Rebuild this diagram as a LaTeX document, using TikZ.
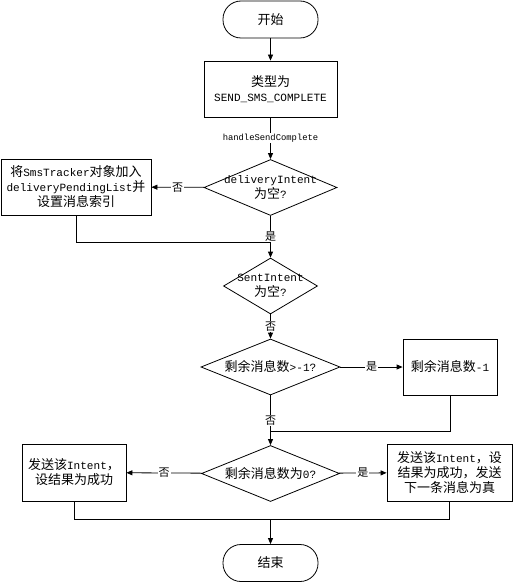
\documentclass[tikz,border=0pt]{standalone}
\usepackage{fontspec}
\setmainfont{Noto Sans CJK SC}
\newfontfamily\mono[Scale=0.85]{Liberation Mono}
\usetikzlibrary{shapes.geometric,arrows.meta}

\begin{document}
\begin{tikzpicture}[x=1pt,y=-1pt]
      \tikzset{terminal/.style={draw, rounded corners=18pt, minimum width=95pt, minimum height=37pt, font=\fontsize{13}{15}\selectfont},
               process/.style={draw, minimum width=#1, minimum height=56pt, align=center, inner sep=1pt, font=\fontsize{13}{15}\selectfont},
               process/.default=133pt,
               decision/.style={draw, diamond, minimum width=#1, minimum height=56pt, inner sep=0pt},
               decision/.default=138pt,
               inside/.style={align=center, inner sep=0pt, font=\fontsize{13}{15}\selectfont},
               flow/.style={-{Triangle[length=6pt,width=5pt]}},
               choice/.style={fill=white, inner sep=1pt, font=\fontsize{11}{12}\selectfont}}
      \useasboundingbox (0,0) rectangle (513,583);
      \tikzset{every path/.style={line width=0.8pt}}

      \node[terminal] (start) at (270.5,19.5) {开始};
      \node[process] (type) at (270.5,89) {类型为\\{\mono SEND\_SMS\_COMPLETE}};
      \node[decision=133pt] (d1) at (270.5,187.5) {};
      \node[inside] (d1text) at (d1) {{\mono deliveryIntent}\\为空{\mono ?}};
      \node[process=150pt] (pend) at (76,187) {将{\mono SmsTracker}对象加入\\{\mono deliveryPendingList}并\\设置消息索引};
      \node[decision=94pt] (d2) at (270.5,286) {};
      \node[inside] (d2text) at (d2) {{\mono SentIntent}\\为空{\mono ?}};
      \node[decision=139pt] (d3) at (270.5,367) {};
      \node[inside] (d3text) at (d3) {剩余消息数{\mono >-1?}};
      \node[process=94pt] (dec) at (450,367) {剩余消息数{\mono -1}};
      \node[decision=138pt] (d4) at (270.5,473.5) {};
      \node[inside] (d4text) at (d4) {剩余消息数为{\mono 0?}};
      \node[process=104pt, minimum height=57pt] (last) at (74,472.5) {发送该{\mono Intent}，\\设结果为成功};
      \node[process=125pt, minimum height=57pt] (next) at (449.5,472.5) {发送该{\mono Intent}，设\\结果为成功，发送\\下一条消息为真};
      \node[terminal] (end) at (270.5,563) {结束};

      \coordinate (j1) at (270.5,242);
      \coordinate (j2) at (270.5,431);
      \coordinate (j3) at (270.5,519);

      \draw[flow] (start) -- (type);
      \draw[flow] (type) -- (d1) node[midway, choice, font=\fontsize{10.4}{11}\mono] (edge1) {handleSendComplete};
      \draw[flow] (d1) -- (pend) node[midway, choice] (edge2) {否};
      \draw[flow] (d1) -- (d2) node[midway, choice] (edge3) {是};
      \draw (pend) |- (j1);
      \draw[flow] (d2) -- (d3) node[midway, choice] (edge4) {否};
      \draw[flow] (d3) -- (dec) node[midway, choice] (edge5) {是};
      \draw[flow] (d3) -- (d4) node[midway, choice] (edge6) {否};
      \draw (dec) |- (j2);
      \draw[flow] (d4) -- (last) node[midway, choice] (edge7) {否};
      \draw[flow] (d4) -- (next) node[midway, choice] (edge8) {是};
      \draw (last) |- (j3);
      \draw (next) |- (j3);
      \draw[flow] (j3) -- (end);
\end{tikzpicture}
\end{document}
